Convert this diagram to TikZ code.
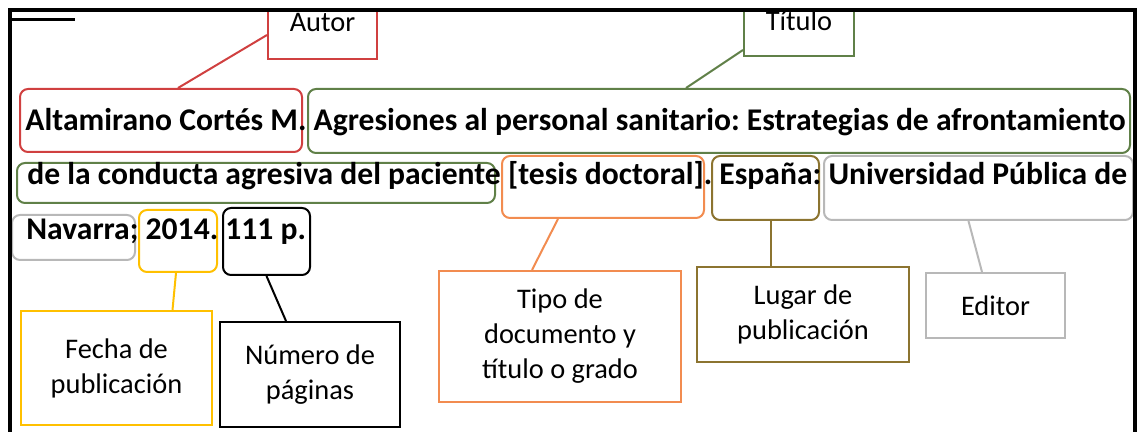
\documentclass[tikz,border=0pt]{standalone}
\usepackage{fontspec}
\setmainfont{Carlito}
\definecolor{autred}{RGB}{208,64,64}
\definecolor{titgreen}{RGB}{96,128,72}
\definecolor{docorange}{RGB}{242,140,80}
\definecolor{placebrown}{RGB}{140,116,48}
\definecolor{edgray}{RGB}{184,184,184}
\definecolor{dateyellow}{RGB}{255,192,0}
\begin{document}
\begin{tikzpicture}[x=0.5pt,y=-0.5pt,
		seg/.style={draw=#1,rounded corners=4pt,line width=1pt,inner sep=0pt},
		lbl/.style={draw=#1,line width=1pt,align=center,inner sep=0pt,text=black,
			font=\fontsize{14.2}{17.5}\selectfont},
		cite/.style={anchor=base west,inner sep=0pt,font=\fontsize{15.8}{18}\selectfont\bfseries\frenchspacing},
		link/.style={line width=1pt}]
	\useasboundingbox (0,0) rectangle (1142,432);

	%draw the boxes round the parts of the reference
	\node[seg=autred,minimum width=141pt,minimum height=31.5pt] (author) at (161,120.5) {};
	\node[seg=titgreen,minimum width=411pt,minimum height=32pt] (title1) at (719,121) {};
	\node[seg=titgreen,minimum width=239pt,minimum height=20pt] (title2) at (256,183) {};
	\node[seg=docorange,minimum width=101pt,minimum height=31pt] (tesis) at (603,187) {};
	\node[seg=placebrown,minimum width=53.5pt,minimum height=32pt] (espana) at (765.5,188) {};
	\node[seg=edgray,minimum width=154.5pt,minimum height=32pt] (univ) at (978.5,188) {};
	\node[seg=edgray,minimum width=61.5pt,minimum height=22.5pt] (navarra) at (73.5,237.5) {};
	\node[seg=dateyellow,minimum width=39pt,minimum height=31pt] (year) at (178,241) {};
	\node[seg=black,minimum width=43.5pt,minimum height=33.5pt] (pages) at (266.5,241.5) {};

	%draw the reference itself
	\node[cite] (line1) at (25,131) {Altamirano Cortés M. Agresiones al personal sanitario: Estrategias de afrontamiento};
	\node[cite] (line2) at (27,185) {de la conducta agresiva del paciente [tesis doctoral]. España: Universidad Pública de};
	\node[cite] (line3) at (26,240) {Navarra; 2014. 111 p.};

	%draw the labels
	\node[lbl=autred,anchor=north,minimum width=54.5pt,text height=10.5pt,text depth=13.5pt] (autor) at (322.5,10) {Autor};
	\node[lbl=titgreen,anchor=north,minimum width=55pt,text height=10pt,text depth=12.5pt] (titulo) at (799,10) {Título};
	\node[lbl=dateyellow,minimum width=95.5pt,minimum height=57pt] (fecha) at (116.5,368) {Fecha de\\publicación};
	\node[lbl=black,minimum width=90pt,minimum height=52.5pt] (numero) at (310,374.5) {Número de\\páginas};
	\node[lbl=docorange,minimum width=121pt,minimum height=65.5pt] (tipo) at (560,336.5) {Tipo de\\documento y\\título o grado};
	\node[lbl=placebrown,minimum width=106pt,minimum height=47.5pt] (lugar) at (803,314.5) {Lugar de\\publicación};
	\node[lbl=edgray,minimum width=69.5pt,minimum height=32.5pt] (editor) at (995.5,305.5) {Editor};

	%connect the labels to the boxes
	\draw[link,autred] (autor.west) -- ([xshift=8.5pt]author.north);
	\draw[link,titgreen] ([yshift=3.5pt]titulo.south west) -- ([xshift=-16.5pt]title1.north);
	\draw[link,docorange] ([xshift=-22.5pt]tesis.south) -- ([xshift=-14pt]tipo.north);
	\draw[link,placebrown] ([xshift=2.75pt]espana.south) -- ([xshift=-16pt]lugar.north);
	\draw[link,edgray] ([xshift=-5pt]univ.south) -- ([xshift=-6.75pt]editor.north);
	\draw[link,dateyellow] ([xshift=-1pt]year.south) -- ([xshift=28pt]fecha.north);
	\draw[link] (pages.south) -- ([xshift=-12pt]numero.north);

	%draw the frame
	\draw[line width=1.5pt] (8,20) -- (75,20);
	\draw[line width=2pt] (10,432) -- (10,10) -- (1135,10) -- (1135,432);
\end{tikzpicture}
\end{document}
